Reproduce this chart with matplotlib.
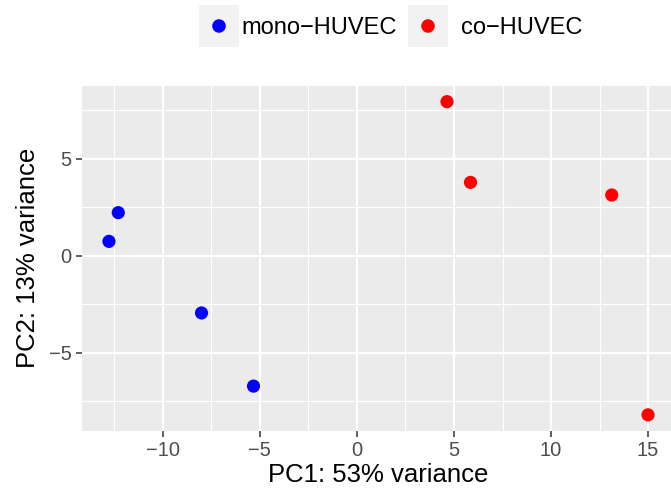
import matplotlib
matplotlib.use("Agg")
import matplotlib.pyplot as plt
from matplotlib.patches import Rectangle
from matplotlib.ticker import MultipleLocator
import numpy as np

plt.rcParams['font.family'] = ['Liberation Sans', 'DejaVu Sans']

# PCA scores per group
groups = ["mono\u2212HUVEC", "co\u2212HUVEC"]
colors = ["#0000FF", "#FF0000"]
mono_pc1 = [-12.78, -12.30, -8.01, -5.33]
mono_pc2 = [0.74, 2.22, -2.95, -6.72]
co_pc1 = [4.64, 5.85, 13.13, 15.00]
co_pc2 = [7.94, 3.78, 3.13, -8.20]
x_ticks = [-10, -5, 0, 5, 10, 15]
y_ticks = [-5, 0, 5]
x_title = "PC1: 53% variance"
y_title = "PC2: 13% variance"

W, H = 671, 492
fig = plt.figure(figsize=(W / 100, H / 100), dpi=100)

left, right, top, bottom = 82.0, 675.0, 86.0, 430.5
ax = fig.add_axes([left / W, 1 - bottom / H, (right - left) / W, (bottom - top) / H])
ax.set_facecolor("#EBEBEB")

all_x = np.array(mono_pc1 + co_pc1)
all_y = np.array(mono_pc2 + co_pc2)
ex = 0.05 * (all_x.max() - all_x.min())
ey = 0.05 * (all_y.max() - all_y.min())
ax.set_xlim(all_x.min() - ex, all_x.max() + ex)
ax.set_ylim(all_y.min() - ey, all_y.max() + ey)

ax.xaxis.set_major_locator(MultipleLocator(5))
ax.yaxis.set_major_locator(MultipleLocator(5))
ax.xaxis.set_minor_locator(MultipleLocator(2.5))
ax.yaxis.set_minor_locator(MultipleLocator(2.5))
ax.set_xticks(x_ticks)
ax.set_yticks(y_ticks)
ax.set_xticklabels([str(t).replace("-", "\u2212") for t in x_ticks])
ax.set_yticklabels([str(t).replace("-", "\u2212") for t in y_ticks])
ax.grid(which="major", color="white", linewidth=1.6)
ax.grid(which="minor", color="white", linewidth=0.8)
ax.set_axisbelow(True)
for s in ax.spines.values():
    s.set_visible(False)
ax.tick_params(which="major", length=4.5, width=1.1, color="#333333",
               labelcolor="#4D4D4D", labelsize=14.5, pad=3)
ax.tick_params(which="minor", length=0)

ax.scatter(mono_pc1, mono_pc2, s=90, color=colors[0], edgecolors="none", zorder=3)
ax.scatter(co_pc1, co_pc2, s=90, color=colors[1], edgecolors="none", zorder=3)

ax.set_xlabel(x_title, fontsize=18.5, color="black", labelpad=2)
ax.set_ylabel(y_title, fontsize=18.5, color="black", labelpad=6)

# legend drawn along the top in pixel space
lg = fig.add_axes([0, 0, 1, 1], zorder=5)
lg.set_xlim(0, W)
lg.set_ylim(H, 0)
lg.axis("off")
key_left = [198.5, 407.5]
text_left = [241.5, 461.5]
for kx, tx, lab, col in zip(key_left, text_left, groups, colors):
    lg.add_patch(Rectangle((kx, 5), 40.5, 41.5, facecolor="#F2F2F2", edgecolor="none"))
    lg.scatter([kx + 20.5], [26], s=95, color=col, edgecolors="none")
    lg.text(tx, 34, lab, fontsize=17, va="baseline", ha="left", color="black")

fig.savefig("out.png", dpi=100)
